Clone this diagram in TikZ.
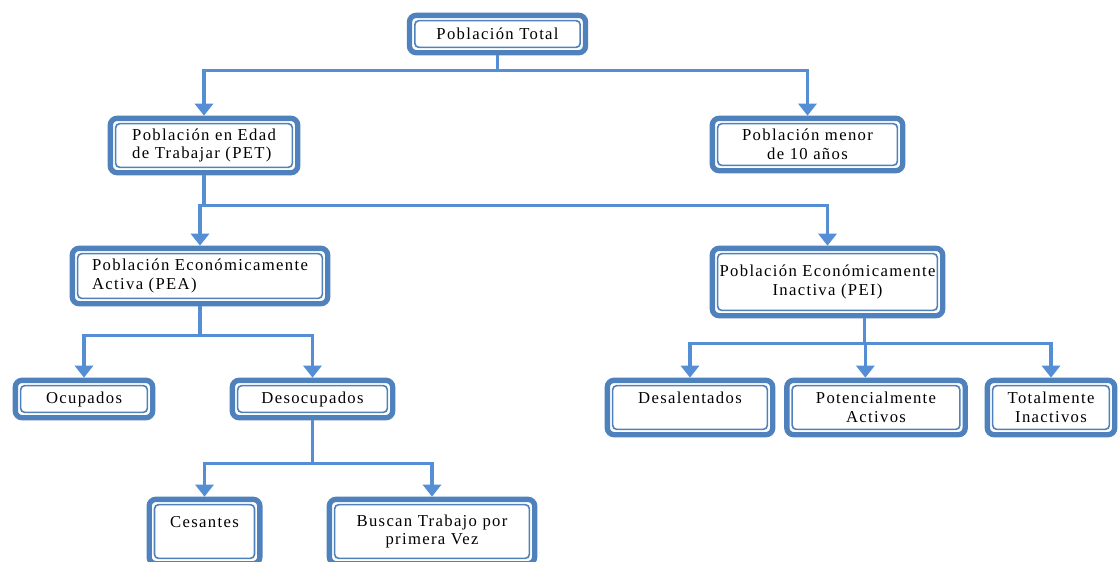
\documentclass[tikz,border=0pt]{standalone}
\usepackage{fontspec}
\setmainfont{Liberation Serif}[LetterSpace=8]
\usetikzlibrary{arrows.meta}
\definecolor{boxblue}{HTML}{4F81BD}
\definecolor{lineblue}{HTML}{558ED5}

\begin{document}
\begin{tikzpicture}[x=0.75pt,y=-0.75pt,
    box/.style={draw=boxblue,line width=4pt,rounded corners=5pt,fill=white,
      align=center,inner sep=2pt,font=\fontsize{12.5}{14}\selectfont,
      path picture={\draw[boxblue,line width=1.2pt,rounded corners=3pt]
        ([shift={(4pt,-4pt)}]path picture bounding box.north west) rectangle
        ([shift={(-4pt,4pt)}]path picture bounding box.south east);}},
    conn/.style={draw=lineblue,line width=2.4pt,-{Triangle[width=13.5pt,length=9pt]}}]
      \useasboundingbox (0,0) rectangle (1119,561);
      \fill[white] (0,0) rectangle (1119,561);
      \clip (0,0) rectangle (1119,561);

      \node[box,minimum width=132pt,minimum height=28pt] (T) at (497.5,34) {Población Total};
      \node[box,align=left,minimum width=140.5pt,minimum height=40.75pt] (PET) at (204,145.5) {Población en Edad\\de Trabajar (PET)};
      \node[box,minimum width=142.75pt,minimum height=39.25pt] (M) at (807.5,144.5) {Población menor\\de 10 años};
      \node[box,align=left,minimum width=191.5pt,minimum height=41.5pt] (PEA) at (200,276) {Población Económicamente\\Activa (PEA)};
      \node[box,minimum width=172.75pt,minimum height=50.5pt] (PEI) at (827.5,282) {Población Económicamente\\Inactiva (PEI)};
      \node[box,minimum width=103pt,minimum height=28pt] (O) at (84,399) {Ocupados};
      \node[box,minimum width=120.25pt,minimum height=28pt] (D) at (312.5,399) {Desocupados};
      \node[box,minimum width=124pt,minimum height=40.75pt] (De) at (690,407.5) {Desalentados\\~};
      \node[box,minimum width=133.75pt,minimum height=40.75pt] (Po) at (876,407.5) {Potencialmente\\Activos};
      \node[box,minimum width=95.5pt,minimum height=40.75pt] (To) at (1051,407.5) {Totalmente\\Inactivos};
      \node[box,minimum width=83pt,minimum height=48.25pt] (C) at (204.5,531.5) {Cesantes\\~};
      \node[box,minimum width=154pt,minimum height=48.25pt] (B) at (432,531.5) {Buscan Trabajo por\\primera Vez};

      \draw[conn] (T.south) -- ++(0,15) -| (PET.north);
      \draw[conn] (T.south) -- ++(0,15) -| (M.north);
      \draw[conn] (PET.south) -- ++(0,30) -| (PEA.north);
      \draw[conn] (PET.south) -- ++(0,30) -| (PEI.north);
      \draw[conn] (PEA.south) -- ++(0,29) -| (O.north);
      \draw[conn] (PEA.south) -- ++(0,29) -| (D.north);
      \draw[conn] ([xshift=28pt]PEI.south) -- ++(0,25) -| (De.north);
      \draw[conn] ([xshift=28pt]PEI.south) -- ++(0,25) -| ([xshift=-8pt]Po.north);
      \draw[conn] ([xshift=28pt]PEI.south) -- ++(0,25) -| (To.north);
      \draw[conn] (D.south) -- ++(0,43) -| (C.north);
      \draw[conn] (D.south) -- ++(0,43) -| (B.north);
    \end{tikzpicture}
\end{document}
